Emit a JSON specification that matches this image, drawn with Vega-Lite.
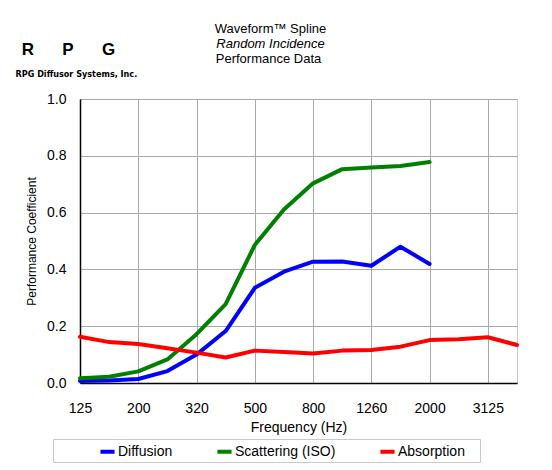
{
  "$schema": "https://vega.github.io/schema/vega-lite/v6.json",
  "width": 437,
  "height": 284,
  "autosize": {"type": "none"},
  "padding": {"left": 80, "top": 99, "right": 35, "bottom": 87},
  "background": "white",
  "title": {
    "text": "Waveform™ Spline",
    "subtitle": "Random Incidence",
    "anchor": "middle",
    "frame": "group",
    "offset": -11,
    "dx": -28,
    "font": "Liberation Sans",
    "fontSize": 13,
    "fontWeight": "normal",
    "color": "black",
    "subtitleFont": "Liberation Sans",
    "subtitleFontSize": 13,
    "subtitleFontStyle": "italic",
    "subtitleColor": "black",
    "subtitlePadding": 2
  },
  "data": {
    "values": [
      {"freq": "125", "series": "Diffusion", "value": 0.007},
      {"freq": "160", "series": "Diffusion", "value": 0.009},
      {"freq": "200", "series": "Diffusion", "value": 0.014},
      {"freq": "250", "series": "Diffusion", "value": 0.042},
      {"freq": "320", "series": "Diffusion", "value": 0.10},
      {"freq": "400", "series": "Diffusion", "value": 0.183},
      {"freq": "500", "series": "Diffusion", "value": 0.335},
      {"freq": "630", "series": "Diffusion", "value": 0.392},
      {"freq": "800", "series": "Diffusion", "value": 0.427},
      {"freq": "1000", "series": "Diffusion", "value": 0.428},
      {"freq": "1260", "series": "Diffusion", "value": 0.413},
      {"freq": "1600", "series": "Diffusion", "value": 0.48},
      {"freq": "2000", "series": "Diffusion", "value": 0.419},
      {"freq": "125", "series": "Scattering (ISO)", "value": 0.017},
      {"freq": "160", "series": "Scattering (ISO)", "value": 0.022},
      {"freq": "200", "series": "Scattering (ISO)", "value": 0.041},
      {"freq": "250", "series": "Scattering (ISO)", "value": 0.083},
      {"freq": "320", "series": "Scattering (ISO)", "value": 0.172},
      {"freq": "400", "series": "Scattering (ISO)", "value": 0.278},
      {"freq": "500", "series": "Scattering (ISO)", "value": 0.486},
      {"freq": "630", "series": "Scattering (ISO)", "value": 0.611},
      {"freq": "800", "series": "Scattering (ISO)", "value": 0.703},
      {"freq": "1000", "series": "Scattering (ISO)", "value": 0.753},
      {"freq": "1260", "series": "Scattering (ISO)", "value": 0.759},
      {"freq": "1600", "series": "Scattering (ISO)", "value": 0.764},
      {"freq": "2000", "series": "Scattering (ISO)", "value": 0.778},
      {"freq": "125", "series": "Absorption", "value": 0.163},
      {"freq": "160", "series": "Absorption", "value": 0.144},
      {"freq": "200", "series": "Absorption", "value": 0.137},
      {"freq": "250", "series": "Absorption", "value": 0.122},
      {"freq": "320", "series": "Absorption", "value": 0.107},
      {"freq": "400", "series": "Absorption", "value": 0.090},
      {"freq": "500", "series": "Absorption", "value": 0.114},
      {"freq": "630", "series": "Absorption", "value": 0.109},
      {"freq": "800", "series": "Absorption", "value": 0.104},
      {"freq": "1000", "series": "Absorption", "value": 0.114},
      {"freq": "1260", "series": "Absorption", "value": 0.116},
      {"freq": "1600", "series": "Absorption", "value": 0.128},
      {"freq": "2000", "series": "Absorption", "value": 0.151},
      {"freq": "2500", "series": "Absorption", "value": 0.154},
      {"freq": "3125", "series": "Absorption", "value": 0.161},
      {"freq": "4000", "series": "Absorption", "value": 0.134}
    ]
  },
  "layer": [
    {
      "transform": [{"filter": "datum.series !== 'Absorption'"}],
      "mark": {"type": "line", "strokeWidth": 4},
      "encoding": {
        "x": {
          "field": "freq",
          "type": "ordinal",
          "sort": ["125","160","200","250","320","400","500","630","800","1000","1260","1600","2000","2500","3125","4000"],
          "scale": {"type": "point", "padding": 0, "domain": ["125","160","200","250","320","400","500","630","800","1000","1260","1600","2000","2500","3125","4000"]},
          "axis": {
            "orient": "bottom",
            "values": ["125","200","320","500","800","1260","2000","3125"],
            "labelAngle": 0,
            "ticks": false,
            "labelPadding": 18,
            "grid": true,
            "title": "Frequency (Hz)",
            "titlePadding": 5
          }
        },
        "y": {
          "field": "value",
          "type": "quantitative",
          "scale": {"domain": [0, 1]},
          "axis": {
            "orient": "left",
            "values": [0, 0.2, 0.4, 0.6, 0.8, 1.0],
            "format": ".1f",
            "ticks": false,
            "labelPadding": 14,
            "grid": true,
            "title": "Performance Coefficient",
            "titleFontSize": 12,
            "titlePadding": 8
          }
        },
        "color": {
          "field": "series",
          "type": "nominal",
          "scale": {"domain": ["Diffusion", "Scattering (ISO)", "Absorption"], "range": ["#0000ff", "#008000", "#ff0000"]},
          "legend": {
            "orient": "none",
            "legendX": -27,
            "legendY": 340,
            "direction": "horizontal",
            "columns": 3,
            "title": null,
            "symbolType": "stroke",
            "symbolStrokeWidth": 4,
            "symbolSize": 200,
            "symbolOffset": 42,
            "columnPadding": 0,
            "labelOffset": 1,
            "labelFont": "Liberation Sans",
            "labelFontSize": 14,
            "labelColor": "black",
            "labelLimit": 300,
            "labelExpr": "datum.value == 'Absorption' ? 'Absorption\u00a0\u00a0\u00a0\u200b' : datum.label",
            "padding": 3,
            "strokeColor": "#c8c8c8",
            "fillColor": "white"
          }
        }
      }
    },
    {
      "transform": [{"filter": "datum.series === 'Absorption'"}],
      "mark": {"type": "line", "strokeWidth": 4},
      "encoding": {
        "x": {
          "field": "freq",
          "type": "ordinal",
          "sort": ["125","160","200","250","320","400","500","630","800","1000","1260","1600","2000","2500","3125","4000"],
          "scale": {"type": "point", "padding": 0, "domain": ["125","160","200","250","320","400","500","630","800","1000","1260","1600","2000","2500","3125","4000"]},
          "axis": {
            "orient": "top",
            "values": ["125"],
            "labelExpr": "'R\u00a0\u00a0\u00a0\u00a0\u00a0\u00a0P\u00a0\u00a0\u00a0\u00a0\u00a0\u00a0G'",
            "labelAngle": 0,
            "labelFontSize": 17,
            "labelFontWeight": "bold",
            "labelOffset": -12,
            "labelPadding": 41,
            "ticks": false,
            "domain": false,
            "grid": false,
            "title": "Performance Data",
            "titleFontSize": 13,
            "titleFontWeight": "normal",
            "titleX": 188,
            "titleY": -37,
            "titleAlign": "center",
            "titleBaseline": "alphabetic"
          }
        },
        "y": {
          "field": "value",
          "type": "quantitative",
          "scale": {"domain": [0, 1]},
          "axis": {
            "orient": "right",
            "labels": false,
            "ticks": false,
            "domain": false,
            "grid": false,
            "title": "RPG Diffusor Systems, Inc.",
            "titleAngle": 0,
            "titleX": -502,
            "titleY": -23,
            "titleAlign": "left",
            "titleBaseline": "alphabetic",
            "titleFont": "Liberation Sans Narrow, DejaVu Sans Condensed, Liberation Sans",
            "titleFontSize": 9,
            "titleFontWeight": "bold"
          }
        },
        "color": {"field": "series", "type": "nominal"}
      }
    }
  ],
  "resolve": {"axis": {"x": "independent", "y": "independent"}},
  "config": {
    "font": "Liberation Sans",
    "view": {"stroke": "#c8c8c8"},
    "axis": {
      "labelFont": "Liberation Sans",
      "labelFontSize": 14,
      "labelColor": "black",
      "titleFont": "Liberation Sans",
      "titleFontSize": 14,
      "titleFontWeight": "normal",
      "titleColor": "black",
      "domainColor": "black",
      "domainWidth": 1.5,
      "gridColor": "#a8a8a8",
      "gridWidth": 1,
      "gridOpacity": 1
    },
    "line": {"strokeJoin": "round", "strokeCap": "round"}
  }
}
